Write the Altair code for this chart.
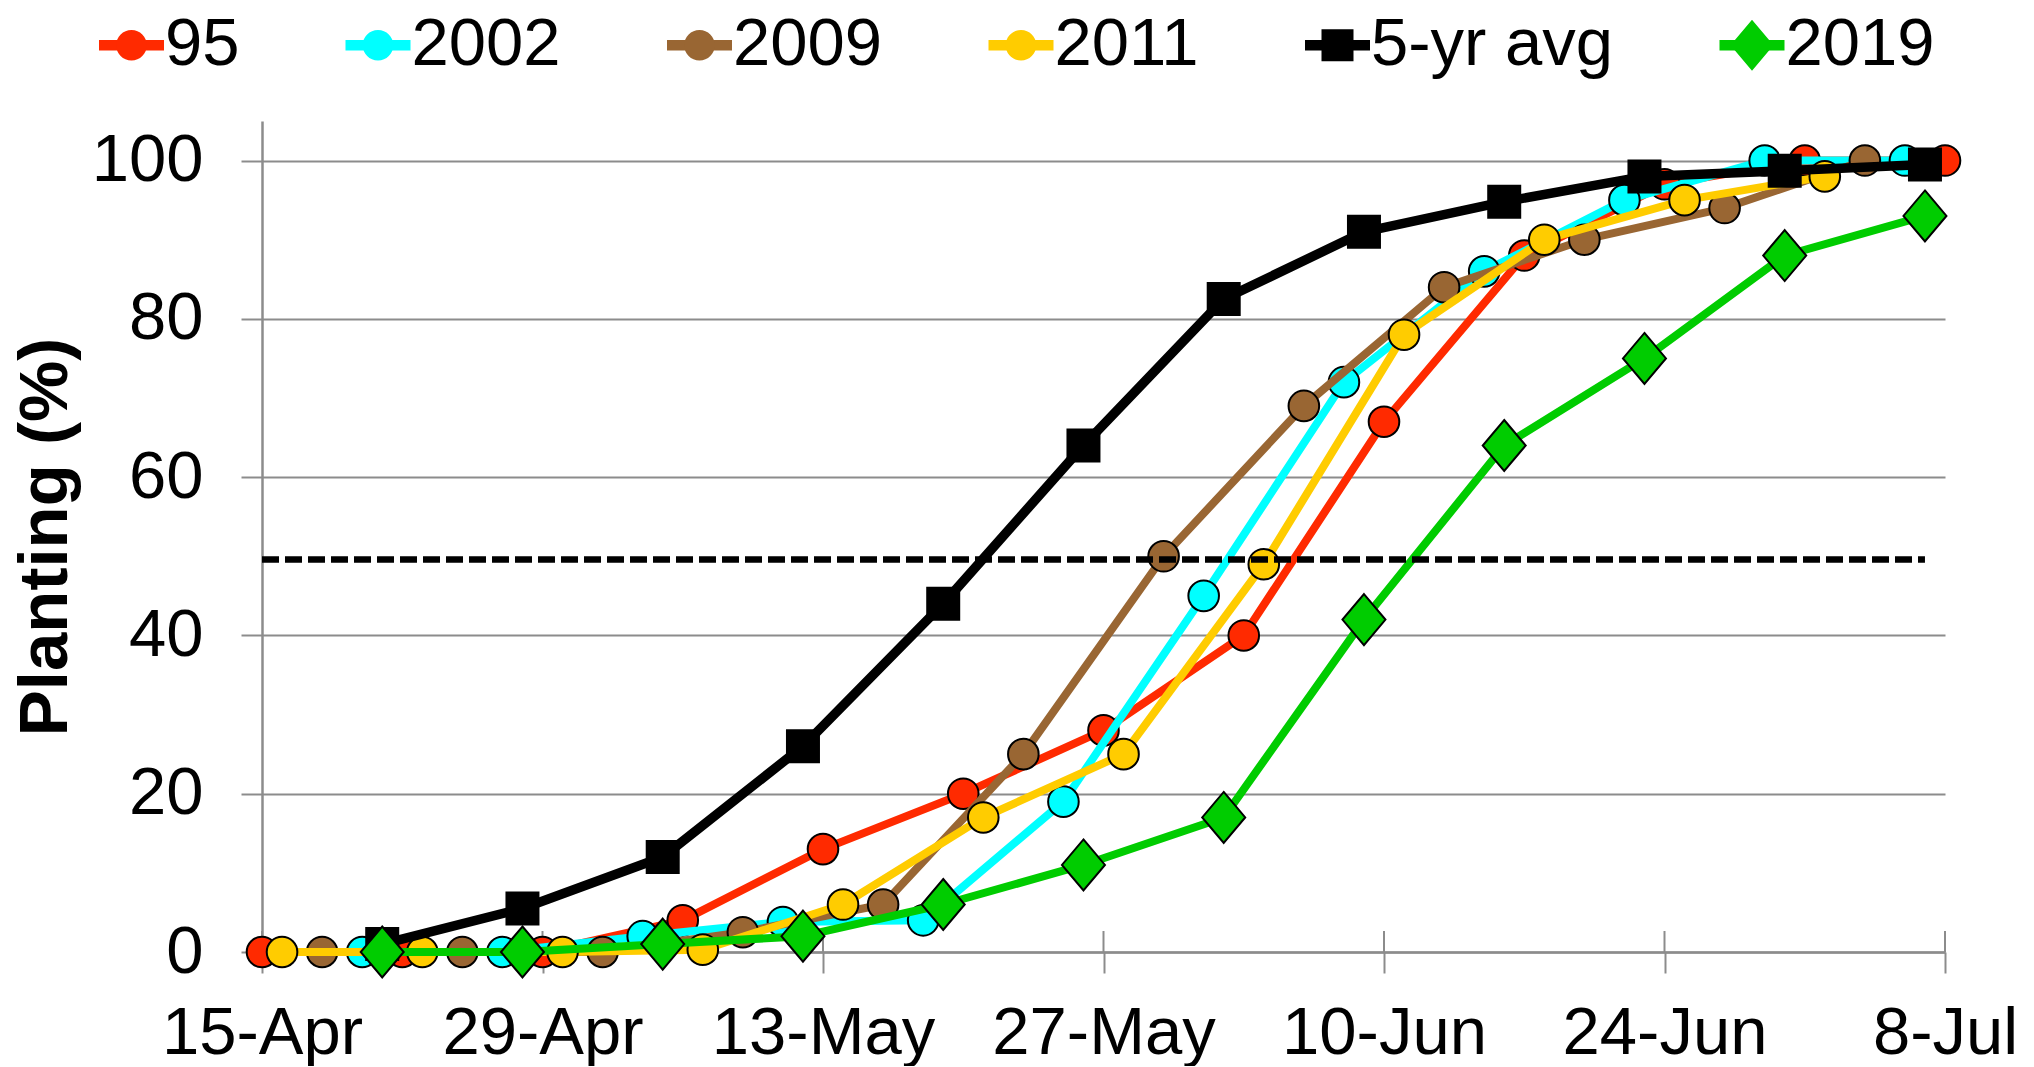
import altair as alt
import pandas as pd

FONT = "Liberation Sans"
GRAY = "#8c8c8c"
FS = 67

# ---------------- data ----------------
SERIES = ["95", "2002", "2009", "2011", "5-yr avg", "2019"]
COLORS = ["#FF2A00", "#00FFFF", "#996633", "#FFCC00", "#000000", "#00CC00"]

DATES_95 = ["2019-04-15", "2019-04-22", "2019-04-29", "2019-05-06", "2019-05-13",
            "2019-05-20", "2019-05-27", "2019-06-03", "2019-06-10", "2019-06-17",
            "2019-06-24", "2019-07-01", "2019-07-08"]
VALUES_95 = [0, 0, 0, 4, 13, 20, 28, 40, 67, 88, 97, 100, 100]

DATES_2002 = ["2019-04-20", "2019-04-27", "2019-05-04", "2019-05-11", "2019-05-18",
              "2019-05-25", "2019-06-01", "2019-06-08", "2019-06-15", "2019-06-22",
              "2019-06-29", "2019-07-06"]
VALUES_2002 = [0, 0, 2, 3.8, 4, 19, 45, 72, 86, 95, 100, 100]

DATES_2009 = ["2019-04-18", "2019-04-25", "2019-05-02", "2019-05-09", "2019-05-16",
              "2019-05-23", "2019-05-30", "2019-06-06", "2019-06-13", "2019-06-20",
              "2019-06-27", "2019-07-04"]
VALUES_2009 = [0, 0, 0, 2.5, 6, 25, 50, 69, 84, 90, 94, 100]

DATES_2011 = ["2019-04-16", "2019-04-23", "2019-04-30", "2019-05-07", "2019-05-14",
              "2019-05-21", "2019-05-28", "2019-06-04", "2019-06-11", "2019-06-18",
              "2019-06-25", "2019-07-02"]
VALUES_2011 = [0, 0, 0, 0.3, 6, 17, 25, 49, 78, 90, 95, 98]

DATES_AVG = ["2019-04-21", "2019-04-28", "2019-05-05", "2019-05-12", "2019-05-19",
             "2019-05-26", "2019-06-02", "2019-06-09", "2019-06-16", "2019-06-23",
             "2019-06-30", "2019-07-07"]
VALUES_AVG = [1, 5.5, 12, 26, 44, 64, 82.5, 91, 94.8, 98, 98.7, 99.5]

DATES_2019 = ["2019-04-21", "2019-04-28", "2019-05-05", "2019-05-12", "2019-05-19",
              "2019-05-26", "2019-06-02", "2019-06-09", "2019-06-16", "2019-06-23",
              "2019-06-30", "2019-07-07"]
VALUES_2019 = [0, 0, 1, 2, 6, 11, 17, 42, 64, 75, 88, 93]

TICK_DATES = ["2019-04-15", "2019-04-29", "2019-05-13", "2019-05-27",
              "2019-06-10", "2019-06-24", "2019-07-08"]
Y_TICKS = [0, 20, 40, 60, 80, 100]

DASH_START = "2019-04-15"
DASH_END = "2019-07-07"
DASH_VALUE = 49.6

ALL_DATES = [DATES_95, DATES_2002, DATES_2009, DATES_2011, DATES_AVG, DATES_2019]
ALL_VALUES = [VALUES_95, VALUES_2002, VALUES_2009, VALUES_2011, VALUES_AVG, VALUES_2019]

rows = []
for s, ds, vs in zip(SERIES, ALL_DATES, ALL_VALUES):
    for d, v in zip(ds, vs):
        rows.append({"series": s, "series_b": "_" + s, "date": d, "value": v})
df = pd.DataFrame(rows)
SERIES_B = ["_" + s for s in SERIES]

# ---------------- geometry / styles ----------------
W, H = 1683, 831
U = 29.0                      # px per symbol-path unit
PT_SIZE = (2 * U) ** 2        # symbol size -> sqrt(size)/2 = U
E = 1.2                       # common (invisible) horizontal extent of legend symbols


def padded(p):
    # zero-length sub-paths give both legends identical symbol bounds
    return f"M-{E:.4f},0L-{E:.4f},0M{E:.4f},0L{E:.4f},0" + p


def f(v):
    return f"{v:.4f}"


r = 15.3 / U
CIRCLE = padded(f"M-{f(r)},0A{f(r)},{f(r)},0,1,0,{f(r)},0A{f(r)},{f(r)},0,1,0,-{f(r)},0Z")
q = 16.0 / U
SQUARE = padded(f"M-{f(q)},-{f(q)}L{f(q)},-{f(q)}L{f(q)},{f(q)}L-{f(q)},{f(q)}Z")
dw, dh = 21.5 / U, 25.5 / U
DIAMOND = padded(f"M0,-{f(dh)}L{f(dw)},0L0,{f(dh)}L-{f(dw)},0Z")
SHAPES = [CIRCLE, CIRCLE, CIRCLE, CIRCLE, SQUARE, DIAMOND]

# legend line: a solid bar built from thin strokes (stroke width 2 like the markers)
BL = 32.5 / U
BAR = padded("".join(f"M-{f(BL)},{f(yy / U)}L{f(BL)},{f(yy / U)}"
                     for yy in [-4.2, -2.5, -0.85, 0.85, 2.5, 4.2]))


def dt(m, d):
    return alt.DateTime(year=2019, month=m, date=d, utc=True)


def tick_dt(s):
    y, m, d = s.split("-")
    return dt(int(m), int(d))


X_SCALE = alt.Scale(type="utc", domain=[tick_dt(TICK_DATES[0]), tick_dt(TICK_DATES[-1])])
X_AXIS = alt.Axis(
    title=None, values=[tick_dt(t) for t in TICK_DATES], format="%-d-%b",
    grid=False, domainColor=GRAY, domainWidth=2.5, tickColor=GRAY, tickWidth=2,
    tickSize=21, labelPadding=27, labelFont=FONT, labelFontSize=FS,
    labelColor="black", labelFlush=False, labelOverlap=False, labelLimit=600,
)
Y_SCALE = alt.Scale(domain=[0, 105], nice=False)
Y_AXIS = alt.Axis(
    title="Planting (%)", values=Y_TICKS, grid=True, gridColor=GRAY, gridWidth=2,
    domainColor=GRAY, domainWidth=2.5, tickColor=GRAY, tickWidth=2, tickSize=21,
    labelPadding=38, labelFont=FONT, labelFontSize=FS, labelColor="black",
    labelFlush=False, titleFont=FONT, titleFontSize=69, titleFontWeight="bold",
    titleColor="black", titlePadding=11,
)


def X(field):
    return alt.X(f"{field}:T", scale=X_SCALE, axis=X_AXIS)


def Y(field):
    return alt.Y(f"{field}:Q", scale=Y_SCALE, axis=Y_AXIS)


LEG_COMMON = dict(
    orient="none", legendX=-164, legendY=-109.5, direction="horizontal",
    title=None, symbolSize=PT_SIZE, symbolStrokeWidth=2, symbolOpacity=1,
    labelFont=FONT, labelFontSize=FS, labelColor="black", labelLimit=600,
    columnPadding=98.5, padding=0, labelOffset=0,
)
LEG_A = alt.Legend(symbolType=BAR, **LEG_COMMON)
LEG_B = alt.Legend(symbolStrokeColor="black", labelOpacity=0,
                   labelExpr="substring(datum.label, 1)", **LEG_COMMON)

STROKE_SCALE = alt.Scale(domain=SERIES, range=COLORS)
base = alt.Chart(df)

layers = []
# inner half of x-axis ticks (the reference ticks cross the axis)
layers.append(
    alt.Chart(pd.DataFrame({"date": TICK_DATES}))
    .mark_rule(color=GRAY, strokeWidth=2)
    .encode(x=X("date"), y=alt.value(H - 21), y2=alt.value(H))
)
# invisible layer that only carries the line part of the legend
layers.append(
    base.mark_point(filled=False, opacity=0, shape=BAR, size=PT_SIZE, strokeWidth=2)
    .encode(x=X("date"), y=Y("value"),
            stroke=alt.Stroke("series:N", scale=STROKE_SCALE, legend=LEG_A))
)

for s in SERIES:
    sub = base.transform_filter(alt.datum.series == s)
    lw = 9.5 if s == "5-yr avg" else 8
    layers.append(
        sub.mark_line(strokeWidth=lw, strokeCap="round", strokeJoin="round")
        .encode(x=X("date"), y=Y("value"),
                stroke=alt.Stroke("series:N", scale=STROKE_SCALE, legend=None))
    )
    layers.append(
        sub.mark_point(filled=True, opacity=1, size=PT_SIZE, stroke="black", strokeWidth=2)
        .encode(
            x=X("date"), y=Y("value"),
            fill=alt.Fill("series_b:N", scale=alt.Scale(domain=SERIES_B, range=COLORS),
                          legend=LEG_B),
            shape=alt.Shape("series_b:N", scale=alt.Scale(domain=SERIES_B, range=SHAPES),
                            legend=LEG_B),
        )
    )

layers.append(
    alt.Chart(pd.DataFrame({"start": [DASH_START], "end": [DASH_END], "value": [DASH_VALUE]}))
    .mark_rule(color="black", strokeWidth=6.5, strokeDash=[17, 6])
    .encode(x=X("start"), x2=alt.X2("end"), y=Y("value"))
)

chart = (
    alt.layer(*layers)
    .properties(width=W, height=H, background="white",
                padding={"left": 3, "top": 3, "right": 0, "bottom": 0})
    .configure_view(stroke="transparent")
)

chart.save("out.html", embed_options={"renderer": "svg", "actions": False})
